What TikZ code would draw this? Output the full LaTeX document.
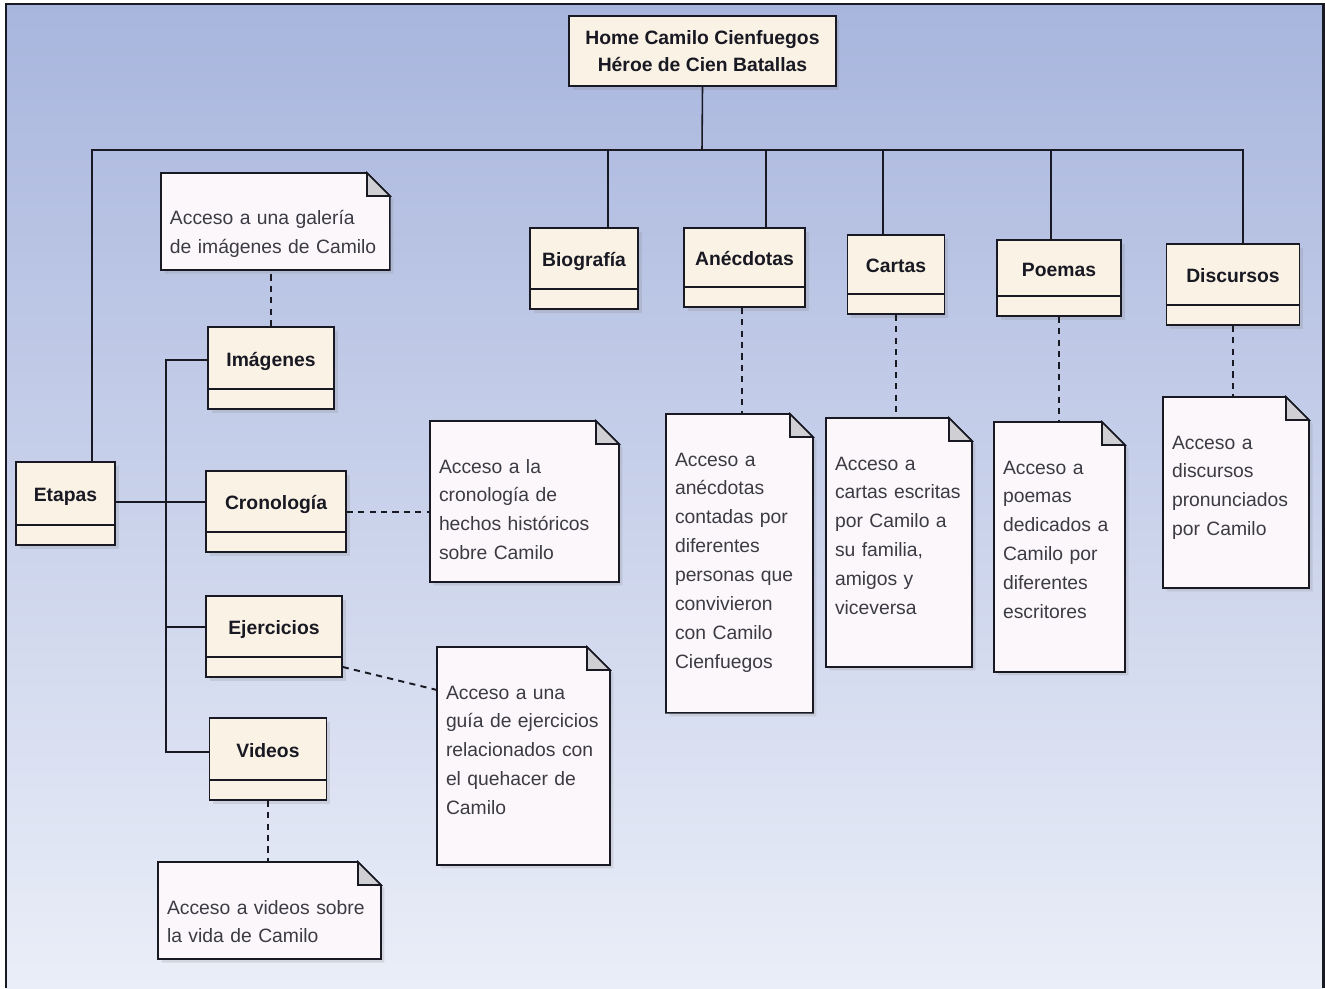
\documentclass[tikz,border=0pt]{standalone}
\usepackage{fontspec}
\setmainfont{Liberation Sans}
\usepackage{tikz}
\usetikzlibrary{shadows}
\usepackage{xcolor}

\definecolor{skytop}{RGB}{168,181,221}
\definecolor{skybottom}{RGB}{234,238,248}
\definecolor{cream}{RGB}{250,242,228}
\definecolor{notepaper}{RGB}{252,247,250}
\definecolor{foldgray}{RGB}{208,208,212}
\definecolor{ink}{RGB}{25,25,35}

\pgfdeclarelayer{back}
\pgfdeclarelayer{paper}
\pgfsetlayers{back,paper,main}

\tikzset{
  link/.style={draw=ink, line width=0.9pt},
  trace/.style={draw=ink, line width=1.1pt, dash pattern=on 3.5pt off 3pt},
  homebox/.style={draw=ink, line width=0.9pt, fill=cream, align=center,
    font=\fontsize{11}{15}\selectfont\bfseries, text=ink,
    drop shadow={shadow xshift=2pt, shadow yshift=-2pt, opacity=0.2}},
  classbox/.style={draw=ink, line width=0.9pt, fill=cream, minimum height=1.62cm,
    text height=8pt, text depth=0.36cm, text=ink,
    font=\fontsize{11}{13}\selectfont\bfseries,
    drop shadow={shadow xshift=2pt, shadow yshift=-2pt, opacity=0.2},
    path picture={\draw[ink, line width=0.9pt]
      ([yshift=0.4cm]path picture bounding box.south west) --
      ([yshift=0.4cm]path picture bounding box.south east);}},
  notetext/.style={anchor=north west, inner xsep=0.18cm, inner ysep=0pt, outer sep=0pt,
    align=left, text height=1.04cm, text=ink!85,
    font=\fontsize{11}{16.5}\selectfont},
  notepath/.style={draw=ink, line width=0.9pt, fill=notepaper,
    drop shadow={shadow xshift=2pt, shadow yshift=-2pt, opacity=0.2}},
  foldpath/.style={draw=ink, line width=0.9pt, fill=foldgray}
}

\begin{document}
\begin{tikzpicture}[x=0.02cm, y=-0.02cm]
    \useasboundingbox (0,0) rectangle (1325,988);

    % Fondo
    \begin{pgfonlayer}{back}
        \fill[white] (0,0) rectangle (1325,988);
        \shade[top color=skytop, bottom color=skybottom] (6,4) rectangle (1323,988);
        \draw[ink, line width=1.7pt] (6,988) -- (6,4) -- (1323,4) -- (1323,988);
    \end{pgfonlayer}

    % Pagina principal
    \node[homebox, minimum width=5.34cm, minimum height=1.4cm] (home) at (702.5,51) {Home Camilo Cienfuegos\\H\'eroe de Cien Batallas};

    % Secciones
    \node[classbox, minimum width=2.16cm] (bio) at (584,268.5) {Biografía};
    \node[classbox, minimum width=2.42cm, minimum height=1.58cm] (ane) at (744.5,267.5) {Anécdotas};
    \node[classbox, minimum width=1.94cm, minimum height=1.58cm] (car) at (896,274.5) {Cartas};
    \node[classbox, minimum width=2.48cm, minimum height=1.52cm] (poe) at (1059,278) {Poemas};
    \node[classbox, minimum width=2.66cm] (dis) at (1233,284.5) {Discursos};
    \node[classbox, minimum width=1.98cm, minimum height=1.66cm] (eta) at (65.5,503.5) {Etapas};

    % Subsecciones de Etapas
    \node[classbox, minimum width=2.52cm, minimum height=1.64cm] (img) at (271,368) {Imágenes};
    \node[classbox, minimum width=2.8cm] (cro) at (276,511.5) {Cronología};
    \node[classbox, minimum width=2.72cm] (eje) at (274,636.5) {Ejercicios};
    \node[classbox, minimum width=2.34cm, minimum height=1.64cm] (vid) at (268,759) {Videos};

    % Notas
    \node[notetext, text width=4.22cm, text depth=0.90cm] (nImg) at (161,173) {Acceso a una galería\\de imágenes de Camilo};
    \node[notetext, text width=3.42cm, text depth=2.18cm] (nCro) at (430,421) {Acceso a la\\cronología de\\hechos históricos\\sobre Camilo};
    \node[notetext, text width=3.10cm, text depth=3.32cm] (nEje) at (437,647) {Acceso a una\\guía de ejercicios\\relacionados con\\el quehacer de\\Camilo};
    \node[notetext, text width=4.10cm, text depth=0.90cm] (nVid) at (158,862) {Acceso a videos sobre\\la vida de Camilo};
    \node[notetext, text width=2.58cm, text depth=4.94cm] (nAne) at (666,414) {Acceso a\\anécdotas\\contadas por\\diferentes\\personas que\\convivieron\\con Camilo\\Cienfuegos};
    \node[notetext, text width=2.56cm, text depth=3.94cm] (nCar) at (826,418) {Acceso a\\cartas escritas\\por Camilo a\\su familia,\\amigos y\\viceversa};
    \node[notetext, text width=2.26cm, text depth=3.96cm] (nPoe) at (994,422) {Acceso a\\poemas\\dedicados a\\Camilo por\\diferentes\\escritores};
    \node[notetext, text width=2.56cm, text depth=2.78cm] (nDis) at (1163,397) {Acceso a\\discursos\\pronunciados\\por Camilo};

    \begin{pgfonlayer}{paper}
        \foreach \n in {nImg,nCro,nEje,nVid,nAne,nCar,nPoe,nDis} {
            \draw[notepath] (\n.south west) -- (\n.north west) -- ([xshift=-0.46cm]\n.north east)
                -- ([yshift=-0.46cm]\n.north east) -- (\n.south east) -- cycle;
            \draw[foldpath] ([xshift=-0.46cm]\n.north east) -- ([xshift=-0.46cm,yshift=-0.46cm]\n.north east)
                -- ([yshift=-0.46cm]\n.north east) -- cycle;
        }
    \end{pgfonlayer}

    % Arbol de navegacion
    \coordinate (bus) at (702,150);
    \draw[link] (home.south) -- (bus);
    \draw[link] ([xshift=0.53cm]eta.north) |- (bus);
    \draw[link] ([xshift=0.48cm]bio.north) |- (bus);
    \draw[link] ([xshift=0.43cm]ane.north) |- (bus);
    \draw[link] ([xshift=-0.26cm]car.north) |- (bus);
    \draw[link] ([xshift=-0.16cm]poe.north) |- (bus);
    \draw[link] ([xshift=0.20cm]dis.north) |- (bus);

    \coordinate (fork) at (166,502);
    \draw[link] ([yshift=0.03cm]eta.east) -- (fork);
    \draw[link] ([yshift=0.16cm]img.west) -| (fork);
    \draw[link] ([yshift=0.19cm]cro.west) -| (fork);
    \draw[link] ([yshift=0.19cm]eje.west) -| (fork);
    \draw[link] ([yshift=0.14cm]vid.west) -| (fork);

    % Enlaces a las notas
    \draw[trace] (img.north) -- (img.north |- nImg.south);
    \draw[trace] ([yshift=-0.01cm]cro.east) -- ([yshift=-0.01cm]cro.east -| nCro.west);
    \draw[trace] ([yshift=-0.61cm]eje.east) -- ([yshift=-0.86cm]nEje.north west);
    \draw[trace] (vid.south) -- (vid.south |- nVid.north);
    \draw[trace] ([xshift=-0.05cm]ane.south) -- ([xshift=-0.05cm]ane.south |- nAne.north);
    \draw[trace] (car.south) -- (car.south |- nCar.north);
    \draw[trace] (poe.south) -- (poe.south |- nPoe.north);
    \draw[trace] (dis.south) -- (dis.south |- nDis.north);
\end{tikzpicture}
\end{document}
